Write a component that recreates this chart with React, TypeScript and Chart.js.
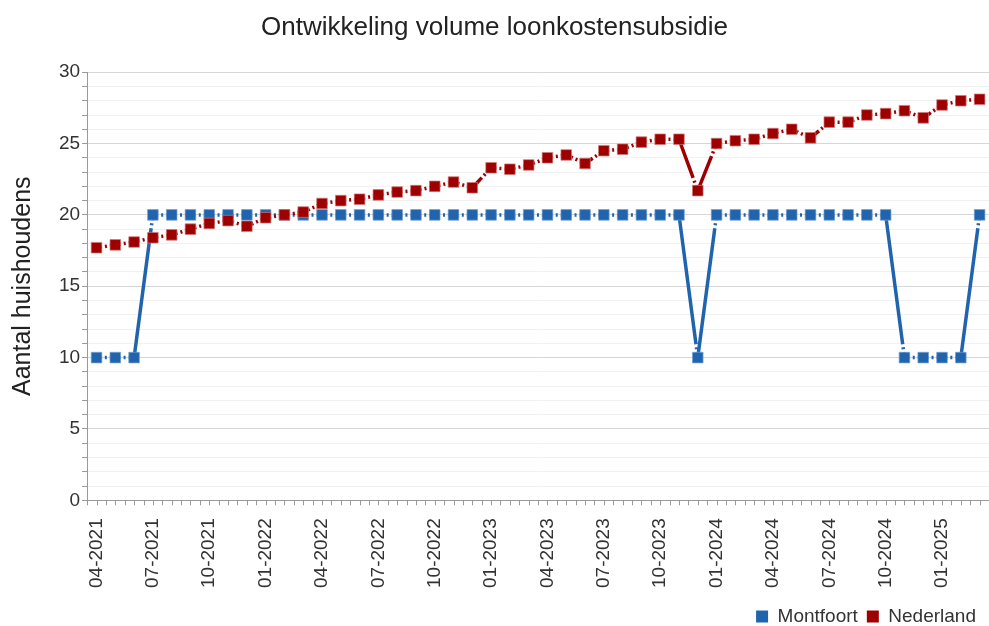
import React, { useEffect, useRef } from 'react';
import { Chart, registerables } from 'chart.js';

Chart.register(...registerables);

const categories = [
  '04-2021', '05-2021', '06-2021', '07-2021', '08-2021', '09-2021', '10-2021', '11-2021', '12-2021',
  '01-2022', '02-2022', '03-2022', '04-2022', '05-2022', '06-2022', '07-2022', '08-2022', '09-2022',
  '10-2022', '11-2022', '12-2022', '01-2023', '02-2023', '03-2023', '04-2023', '05-2023', '06-2023',
  '07-2023', '08-2023', '09-2023', '10-2023', '11-2023', '12-2023', '01-2024', '02-2024', '03-2024',
  '04-2024', '05-2024', '06-2024', '07-2024', '08-2024', '09-2024', '10-2024', '11-2024', '12-2024',
  '01-2025', '02-2025', '03-2025',
];

const shownLabels = [
  '04-2021', '07-2021', '10-2021', '01-2022', '04-2022', '07-2022', '10-2022', '01-2023',
  '04-2023', '07-2023', '10-2023', '01-2024', '04-2024', '07-2024', '10-2024', '01-2025',
];

const montfoort = [
  10, 10, 10, 20, 20, 20, 20, 20, 20,
  20, 20, 20, 20, 20, 20, 20, 20, 20,
  20, 20, 20, 20, 20, 20, 20, 20, 20,
  20, 20, 20, 20, 20, 10, 20, 20, 20,
  20, 20, 20, 20, 20, 20, 20, 10, 10,
  10, 10, 20,
];

const nederland = [
  17.7, 17.9, 18.1, 18.4, 18.6, 19.0, 19.4, 19.6, 19.2,
  19.8, 20.0, 20.2, 20.8, 21.0, 21.1, 21.4, 21.6, 21.7,
  22.0, 22.3, 21.9, 23.3, 23.2, 23.5, 24.0, 24.2, 23.6,
  24.5, 24.6, 25.1, 25.3, 25.3, 21.7, 25.0, 25.2, 25.3,
  25.7, 26.0, 25.4, 26.5, 26.5, 27.0, 27.1, 27.3, 26.8,
  27.7, 28.0, 28.1,
];

const BLUE = '#2064ae';
const RED = '#9e0000';
const FONT = "'Liberation Sans', Arial, sans-serif";
const AXIS = '#9a9a9a';

// dash-dot pattern per segment: a dash hidden under each marker, a small dot in between
const HALF = 5.5;
const GAP = 3;
const DOT = 2;
const segmentDash = (ctx: any) => {
  const L = Math.hypot(ctx.p1.x - ctx.p0.x, ctx.p1.y - ctx.p0.y);
  const a = L - HALF - GAP - DOT - GAP;
  return a > 0 ? [a, GAP, DOT, GAP, HALF, 0] : [];
};

// month ticks (at each category and at each boundary) below the x axis
const monthTicks = {
  id: 'monthTicks',
  afterDraw(chart: any) {
    const x = chart.scales.x;
    const ctx = chart.ctx;
    ctx.save();
    ctx.strokeStyle = AXIS;
    ctx.lineWidth = 1;
    for (let i = 0; i <= categories.length * 2; i++) {
      const px = Math.round(x.getPixelForValue(i / 2 - 0.5)) + 0.5;
      ctx.beginPath();
      ctx.moveTo(px, x.top);
      ctx.lineTo(px, x.top + 5);
      ctx.stroke();
    }
    ctx.restore();
  },
};

// nudge the legend row toward the bottom-right corner
const legendShift = {
  id: 'legendShift',
  afterLayout(chart: any) {
    if (chart.legend) {
      chart.legend.top += 10;
      chart.legend.bottom += 10;
      chart.legend.left -= 4;
      chart.legend.right -= 4;
    }
  },
};

export default function App() {
  const ref = useRef<HTMLCanvasElement | null>(null);

  useEffect(() => {
    if (!ref.current) return;
    const chart = new Chart(ref.current, {
      type: 'line',
      data: {
        labels: categories,
        datasets: [
          {
            label: 'Montfoort',
            data: montfoort,
            borderColor: BLUE,
            backgroundColor: BLUE,
            borderWidth: 3.5,
            pointStyle: 'rect',
            pointRadius: 7.5,
            pointHoverRadius: 7.5,
            pointBorderWidth: 1,
            pointBorderColor: 'rgba(120,160,210,0.7)',
            pointBackgroundColor: BLUE,
            tension: 0,
            order: 1,
            segment: { borderDash: segmentDash },
          },
          {
            label: 'Nederland',
            data: nederland,
            borderColor: RED,
            backgroundColor: RED,
            borderWidth: 3.5,
            pointStyle: 'rect',
            pointRadius: 7.5,
            pointHoverRadius: 7.5,
            pointBorderWidth: 1,
            pointBorderColor: 'rgba(210,120,120,0.7)',
            pointBackgroundColor: RED,
            tension: 0,
            order: 0,
            segment: { borderDash: segmentDash },
          },
        ],
      },
      options: {
        animation: false,
        responsive: true,
        maintainAspectRatio: false,
        layout: { autoPadding: false, padding: { left: 0, right: 0, top: 0, bottom: 0 } },
        plugins: {
          title: {
            display: true,
            text: 'Ontwikkeling volume loonkostensubsidie',
            color: '#222',
            font: { family: FONT, size: 26, weight: 'normal' },
            padding: { top: 12, bottom: 29 },
          },
          legend: {
            position: 'bottom',
            align: 'end',
            labels: {
              color: '#333',
              font: { family: FONT, size: 19 },
              boxWidth: 12,
              boxHeight: 12,
              padding: 9,
              sort: (a: any, b: any) => a.datasetIndex - b.datasetIndex,
              generateLabels: (chart: any) =>
                (Chart.defaults.plugins.legend.labels.generateLabels as any)(chart).map((l: any) => ({
                  ...l,
                  lineWidth: 0,
                  lineDash: [],
                })),
            },
          },
          tooltip: { enabled: false },
        },
        scales: {
          x: {
            offset: true,
            border: { color: AXIS, width: 1 },
            grid: {
              display: true,
              drawOnChartArea: false,
              drawTicks: true,
              tickLength: 18,
              color: 'rgba(0,0,0,0)',
              tickColor: 'rgba(0,0,0,0)',
            },
            ticks: {
              autoSkip: false,
              minRotation: 90,
              maxRotation: 90,
              padding: 0,
              color: '#333',
              font: { family: FONT, size: 19 },
              callback: (_v: any, i: number) => (shownLabels.includes(categories[i]) ? categories[i] : null),
            },
          },
          y: {
            min: 0,
            max: 30,
            border: { color: AXIS, width: 1 },
            grid: {
              drawTicks: true,
              tickLength: 5,
              tickColor: AXIS,
              color: (ctx: any) => (ctx.tick && ctx.tick.value % 5 === 0 ? '#d6d6d6' : '#f1f1f1'),
            },
            ticks: {
              stepSize: 1,
              autoSkip: false,
              padding: 2,
              color: '#333',
              font: { family: FONT, size: 19 },
              callback: (v: any) => (v % 5 === 0 ? String(v) : ''),
            },
            title: {
              display: true,
              text: 'Aantal huishoudens',
              color: '#222',
              font: { family: FONT, size: 25, weight: 'normal' },
              padding: { top: 8, bottom: 19 },
            },
          },
        },
      },
      plugins: [monthTicks, legendShift],
    });
    return () => chart.destroy();
  }, []);

  return (
    <div style={{ position: 'absolute', left: 0, top: 0, width: 989, height: 626, background: '#fff' }}>
      <canvas ref={ref} />
    </div>
  );
}
